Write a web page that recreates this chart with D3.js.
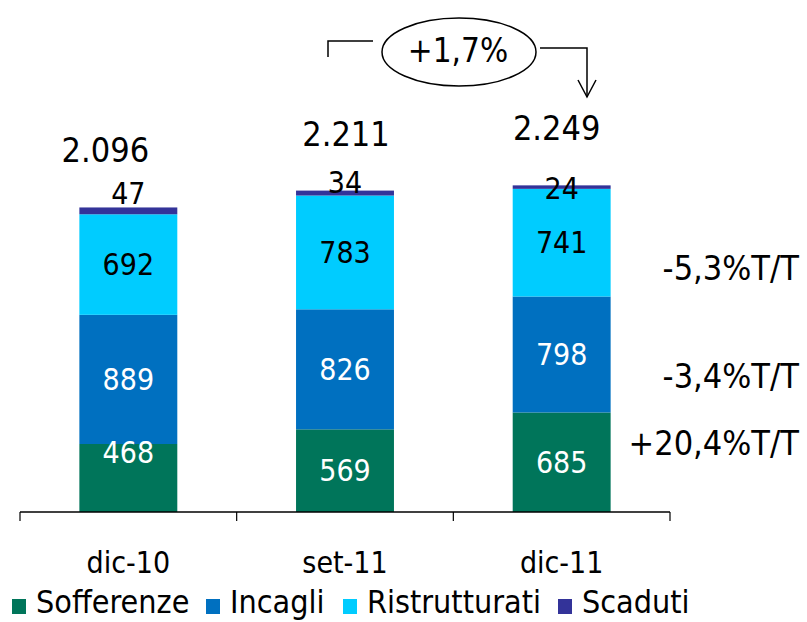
<!DOCTYPE html>
<html>
<head>
<meta charset="utf-8">
<script src="https://cdn.jsdelivr.net/npm/d3@7"></script>
<style>
  html, body { margin: 0; padding: 0; background: #fff; }
  svg { display: block; }
  text { font-family: "DejaVu Sans Condensed", "DejaVu Sans", sans-serif; font-stretch: condensed; }
</style>
</head>
<body>
<svg id="chart" width="807" height="622"></svg>
<script>
// Crediti deteriorati per categoria (milioni di euro)
const categories = ["dic-10", "set-11", "dic-11"];
const series = ["Sofferenze", "Incagli", "Ristrutturati", "Scaduti"];
const sofferenze = [468, 569, 685];
const incagli = [889, 826, 798];
const ristrutturati = [692, 783, 741];
const scaduti = [47, 34, 24];
const totalLabels = ["2.096", "2.211", "2.249"];
const totals = [2096, 2211, 2249];
const changeLabels = ["-5,3%T/T", "-3,4%T/T", "+20,4%T/T"];
const overallChange = "+1,7%";

const colors = {
  Sofferenze: "#00755a",
  Incagli: "#0070c0",
  Ristrutturati: "#00ccff",
  Scaduti: "#333399"
};
const labelColors = {
  Sofferenze: "#ffffff",
  Incagli: "#ffffff",
  Ristrutturati: "#000000",
  Scaduti: "#000000"
};

const rows = categories.map((c, i) => ({
  cat: c,
  Sofferenze: sofferenze[i],
  Incagli: incagli[i],
  Ristrutturati: ristrutturati[i],
  Scaduti: scaduti[i]
}));

const svg = d3.select("#chart");
const baseY = 512;

const x = d3.scaleBand().domain(categories).range([20, 670]).padding(0);
const y = d3.scaleLinear().domain([0, 2500]).range([baseY, baseY - 2500 * 0.1453]);
const barW = x.bandwidth() * 0.452;

const stacked = d3.stack().keys(series)(rows);

// Bars
const layers = svg.append("g").selectAll("g")
  .data(stacked).join("g")
  .attr("fill", d => colors[d.key]);

layers.selectAll("rect")
  .data(d => d.map(s => ({ key: d.key, s })))
  .join("rect")
  .attr("x", d => x(d.s.data.cat) + (x.bandwidth() - barW) / 2)
  .attr("width", barW)
  .attr("y", d => y(d.s[1]))
  .attr("height", d => y(d.s[0]) - y(d.s[1]));

// Segment value labels (thin top segments get their own offset)
const labelNudge = {
  "dic-10|Sofferenze": -26,
  "dic-10|Scaduti": -18,
  "set-11|Scaduti": -11,
  "dic-11|Scaduti": 1
};
const segLabels = svg.append("g");
stacked.forEach(layer => {
  layer.forEach(s => {
    const key = s.data.cat + "|" + layer.key;
    const mid = (y(s[0]) + y(s[1])) / 2;
    segLabels.append("text")
      .attr("x", x(s.data.cat) + x.bandwidth() / 2)
      .attr("y", mid + (labelNudge[key] || 0))
      .attr("dy", "0.36em")
      .attr("text-anchor", "middle")
      .attr("font-size", 30)
      .attr("fill", labelColors[layer.key])
      .text(s.data[layer.key]);
  });
});

// Totals above bars
const totalShift = [-23, 1, -5];
svg.append("g").selectAll("text")
  .data(categories)
  .join("text")
  .attr("x", (c, i) => x(c) + x.bandwidth() / 2 + totalShift[i])
  .attr("y", (c, i) => y(totals[i]) - 45)
  .attr("text-anchor", "middle")
  .attr("font-size", 34)
  .attr("fill", "#000")
  .text((c, i) => totalLabels[i]);

// Category axis
const axisG = svg.append("g").attr("transform", `translate(0,${baseY})`);
axisG.append("line")
  .attr("x1", 20).attr("x2", 670)
  .attr("stroke", "#000").attr("stroke-width", 1.5);
const tickXs = categories.map(c => x(c)).concat([x.range()[1]]);
axisG.selectAll("line.tick")
  .data(tickXs).join("line")
  .attr("class", "tick")
  .attr("x1", d => d).attr("x2", d => d)
  .attr("y1", 0).attr("y2", 9)
  .attr("stroke", "#000").attr("stroke-width", 1.2);
axisG.selectAll("text")
  .data(categories).join("text")
  .attr("x", c => x(c) + x.bandwidth() / 2)
  .attr("y", 61)
  .attr("text-anchor", "middle")
  .attr("font-size", 30)
  .attr("fill", "#000")
  .text(c => c);

// Quarter-on-quarter changes, right side
const changeY = [268, 376, 443];
svg.append("g").selectAll("text")
  .data(changeLabels).join("text")
  .attr("x", 799)
  .attr("y", (d, i) => changeY[i])
  .attr("dy", "0.36em")
  .attr("text-anchor", "end")
  .attr("font-size", 34)
  .attr("fill", "#000")
  .text(d => d);

// Overall change callout
const ann = svg.append("g").attr("fill", "none").attr("stroke", "#000").attr("stroke-width", 1.5);
ann.append("path").attr("d", "M328,57 V41 H373");
ann.append("ellipse").attr("cx", 459).attr("cy", 52).attr("rx", 77).attr("ry", 34);
ann.append("path").attr("d", "M540,48 H587 V97");
ann.append("path").attr("d", "M578,80 L587,97 L596,80");
svg.append("text")
  .attr("x", 458).attr("y", 50)
  .attr("dy", "0.36em")
  .attr("text-anchor", "middle")
  .attr("font-size", 33)
  .attr("fill", "#000")
  .text(overallChange);

// Legend
const legendX = [12, 206, 343, 558];
const legend = svg.append("g");
series.forEach((s, i) => {
  legend.append("rect")
    .attr("x", legendX[i]).attr("y", 599)
    .attr("width", 14).attr("height", 15)
    .attr("fill", colors[s]);
  legend.append("text")
    .attr("x", legendX[i] + 24).attr("y", 613)
    .attr("font-size", 32)
    .attr("fill", "#000")
    .text(s);
});
</script>
</body>
</html>
